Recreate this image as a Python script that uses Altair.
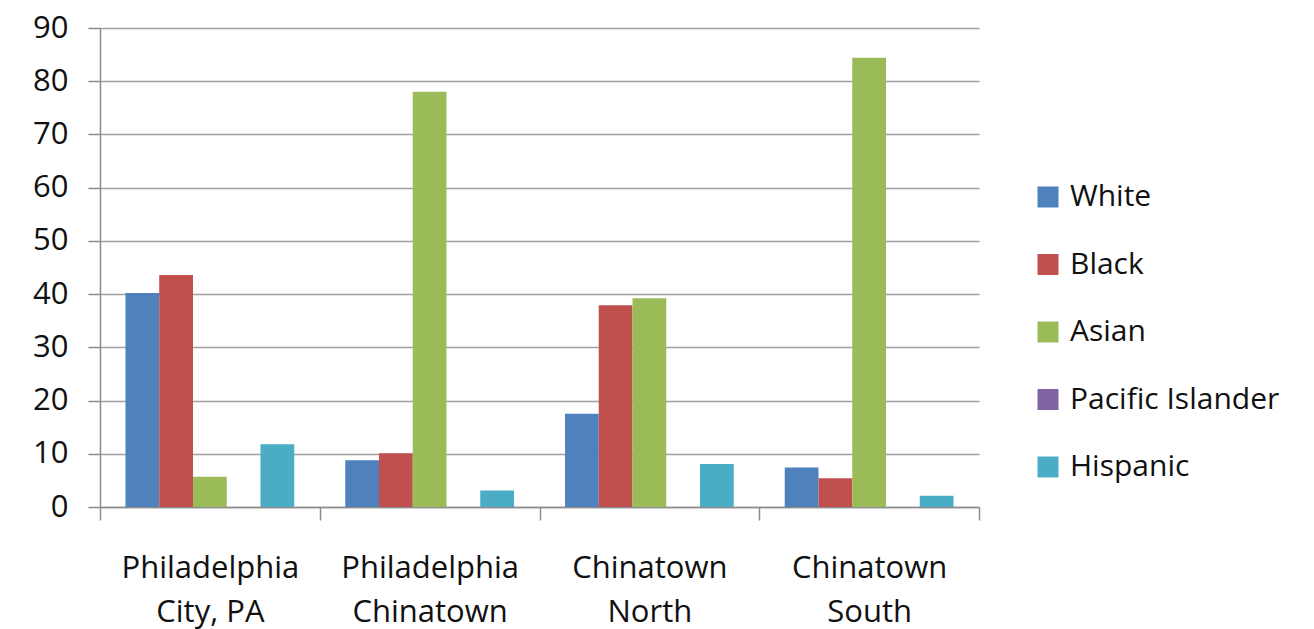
import altair as alt
import pandas as pd

categories = ["Philadelphia\nCity, PA", "Philadelphia\nChinatown", "Chinatown\nNorth", "Chinatown\nSouth"]
series = ["White", "\u2002Black", "Asian", "Pacific Islander", "Hispanic"]
white = [40.2, 8.8, 17.5, 7.4]
black = [43.6, 10.1, 37.9, 5.4]
asian = [5.7, 78.0, 39.2, 84.4]
pacific = [0, 0, 0, 0]
hispanic = [11.8, 3.1, 8.1, 2.1]
colors = ["#4F81BD", "#C0504D", "#9BBB59", "#8064A2", "#4BACC6"]
y_ticks = [0, 10, 20, 30, 40, 50, 60, 70, 80, 90]

rows = []
for s, vals in zip(series, [white, black, asian, pacific, hispanic]):
    for c, v in zip(categories, vals):
        rows.append({"place": c, "group": s, "value": v})
df = pd.DataFrame(rows)

FONT = "Open Sans"

chart = alt.Chart(df).mark_bar().encode(
    x=alt.X("place:N", sort=categories,
            scale=alt.Scale(paddingInner=0, paddingOuter=0),
            axis=alt.Axis(title=None, labelAngle=0, labelExpr="split(datum.label, '\\n')",
                          tickBand="extent", tickSize=13, tickColor="#8c8c8c", tickWidth=1.5,
                          domainColor="#8c8c8c", domainWidth=1.5, grid=False,
                          labelFont=FONT, labelFontSize=31, labelColor="#111111",
                          labelLineHeight=44, labelPadding=33)),
    xOffset=alt.XOffset("group:N", sort=series,
                        scale=alt.Scale(paddingInner=0, paddingOuter=0.755)),
    y=alt.Y("value:Q", scale=alt.Scale(domain=[0, 90], nice=False),
            axis=alt.Axis(title=None, values=y_ticks, tickSize=12, tickColor="#8c8c8c", tickWidth=1.5,
                          domainColor="#8c8c8c", domainWidth=1.5, grid=True,
                          gridColor="#a0a0a0", gridWidth=1.5,
                          labelFont=FONT, labelFontSize=31, labelColor="#111111",
                          labelPadding=20)),
    color=alt.Color("group:N", sort=series,
                    scale=alt.Scale(domain=series, range=colors),
                    legend=alt.Legend(title=None, orient="none", legendX=933, legendY=154,
                                      symbolType="square", symbolSize=441, symbolStrokeWidth=0,
                                      labelFont=FONT, labelFontSize=30, labelColor="#111111",
                                      labelLimit=400, rowPadding=37.5, labelOffset=7)),
).properties(
    width=879, height=479,
    background="white",
    autosize=alt.AutoSizeParams(type="none"),
    padding={"left": 100, "top": 28, "right": 335, "bottom": 122},
).configure_view(stroke=None)

chart.save("out.html", embed_options={"renderer": "svg", "actions": False})
